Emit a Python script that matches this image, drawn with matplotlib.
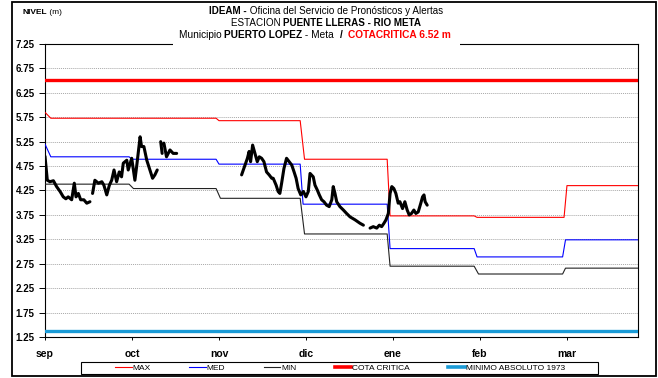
"""Nivel del rio Meta en Puente Lleras: serie observada vs. estadisticos."""

import numpy as np
import matplotlib

matplotlib.use("Agg")
import matplotlib.pyplot as plt
from matplotlib.lines import Line2D
from matplotlib.patches import Rectangle

W, H = 658, 378

months = ["sep", "oct", "nov", "dic", "ene", "feb", "mar"]
month_days = [0, 30, 60, 90, 120, 150, 180]
day_max = 204.5

yticks = [1.25, 1.75, 2.25, 2.75, 3.25, 3.75, 4.25, 4.75, 5.25, 5.75, 6.25, 6.75, 7.25]

cota_critica = 6.52
minimo_1973 = 1.38

# curvas de referencia (dia, nivel)
max_day = [0, 2, 59, 60, 88, 89.5, 118, 119, 148, 149, 179, 180, 204.5]
max_level = [5.85, 5.73, 5.73, 5.68, 5.68, 4.89, 4.89, 3.73, 3.73, 3.70, 3.70, 4.35, 4.35]

med_day = [0, 2, 29, 30, 59, 60, 88, 89, 118, 119, 148, 149, 178.5, 179.5, 204.5]
med_level = [5.20, 4.94, 4.94, 4.89, 4.89, 4.79, 4.79, 3.97, 3.97, 3.06, 3.06, 2.89,
             2.89, 3.24, 3.24]

min_day = [0, 29, 30.5, 59, 60.5, 88, 89.5, 118, 119, 148, 149.5, 178.5, 179.5, 204.5]
min_level = [4.38, 4.38, 4.29, 4.29, 4.09, 4.09, 3.36, 3.36, 2.70, 2.70, 2.54, 2.54,
             2.66, 2.66]

# niveles observados; nan = sin dato
nan = np.nan
obs_day = [
    0.0, 0.8, 1.7, 2.9, 4.0, 5.2, 6.3, 7.2, 8.0, 9.2, 10.1, 10.7, 11.5, 12.3, 13.4,
    14.4, 15.5, 16.0,
    16.4, 17.2, 18.4, 19.6, 20.3, 21.3, 22.2, 23.0, 23.8, 24.7, 25.6, 26.4, 27.0,
    28.2, 28.7, 29.9, 31.0, 31.6, 32.8, 33.3, 34.1, 35.1, 36.2, 37.1, 37.9, 38.7, 39.3,
    39.9, 40.4, 40.7,
    41.0, 41.9, 43.1, 44.2, 45.4, 46.0,
    67.8, 69.0, 69.8, 70.4, 70.9, 71.6, 72.4, 73.2, 73.9, 74.7, 75.5, 76.4, 77.3,
    78.2, 78.7, 79.7, 80.4, 81.0, 81.6, 82.4, 83.3, 84.2, 85.1, 85.9, 86.6, 87.3,
    88.2, 89.1, 90.0, 90.8, 91.4, 92.5, 93.1, 93.9, 94.6, 95.4, 96.2, 97.1, 98.0,
    98.9, 99.4, 100.0, 100.6, 101.7, 102.9, 104.0, 105.2, 106.9, 108.6, 109.8, 111.0,
    112.1, 113.2, 114.4, 115.3, 116.1, 116.9, 117.6, 118.4, 119.0, 119.6, 120.3,
    121.0, 121.8, 122.4, 123.3, 124.1, 124.9, 125.6, 126.4, 127.2, 127.9, 128.7,
    129.6, 130.2, 130.7, 131.1, 131.8,
]
obs_level = [
    4.95, 4.46, 4.43, 4.45, 4.33, 4.23, 4.12, 4.08, 4.12, 4.06, 4.40, 4.12, 4.19, 4.06,
    4.06, 3.99, 4.02, nan,
    4.19, 4.46, 4.40, 4.43, 4.36, 4.16, 4.36, 4.46, 4.67, 4.43, 4.63, 4.53, 4.81,
    4.87, 4.67, 4.91, 4.46, 4.74, 5.35, 5.15, 5.15, 4.87, 4.67, 4.50, 4.57, 4.67, nan,
    5.25, 5.01, nan,
    5.22, 4.94, 5.08, 5.01, 5.01, nan,
    4.57, 4.77, 4.91, 5.05, 4.84, 5.18, 5.01, 4.84, 4.94, 4.91, 4.84, 4.63, 4.57,
    4.50, 4.50, 4.36, 4.23, 4.19, 4.40, 4.70, 4.91, 4.84, 4.77, 4.63, 4.50, 4.29,
    4.16, 4.23, 4.12, 4.23, 4.60, 4.53, 4.36, 4.26, 4.16, 4.06, 4.02, 3.95, 3.92,
    4.06, 4.33, 4.19, 4.02, 3.92, 3.85, 3.78, 3.71, 3.65, 3.58, 3.54, nan,
    3.48, 3.51, 3.48, 3.54, 3.51, 3.58, 3.65, 3.78, 4.19, 4.33, 4.29,
    4.19, 3.99, 4.02, 3.88, 4.02, 3.85, 3.75, 3.78, 3.85, 3.78, 3.81,
    3.99, 4.12, 4.16, 4.02, 3.95,
]

RED = "#ff0000"
BLUE = "#0000ff"
TEAL = "#1a9bd7"

plt.rcParams["font.family"] = ["Liberation Sans", "DejaVu Sans"]
NARROW = ["Liberation Sans Narrow", "Liberation Sans", "DejaVu Sans"]


def px(x, y):
    """pixel (desde arriba-izquierda) -> fraccion de figura"""
    return x / W, 1 - y / H


def rich_line(fig, cx, cy, parts, size):
    renderer = fig.canvas.get_renderer()
    items = []
    for s, weight, color in parts:
        t = fig.text(0, 0, s, fontsize=size, fontweight=weight, color=color,
                     family=NARROW, va="center", ha="left", zorder=6)
        items.append((t, t.get_window_extent(renderer).width))
    x = cx - sum(w for _, w in items) / 2
    for t, w in items:
        t.set_position(px(x, cy))
        x += w


fig = plt.figure(figsize=(W / 100, H / 100), dpi=100)
ax = fig.add_axes([45 / W, 1 - 337 / H, 593 / W, 293 / H])

ax.plot(max_day, max_level, color=RED, lw=0.8, zorder=3)
ax.plot(med_day, med_level, color=BLUE, lw=0.8, zorder=3)
ax.plot(min_day, min_level, color="#222222", lw=0.8, zorder=3)
ax.axhline(cota_critica, color=RED, lw=2.4, zorder=3)
ax.axhline(minimo_1973, color=TEAL, lw=2.4, zorder=3)
ax.plot(obs_day, obs_level, color="black", lw=2.2, zorder=4,
        solid_capstyle="round", solid_joinstyle="round")

ax.set_xlim(0, day_max)
ax.set_ylim(yticks[0], yticks[-1])
ax.set_yticks(yticks)
ax.set_yticklabels([f"{v:.2f}" for v in yticks], fontsize=7, fontweight="bold")
ax.set_xticks(month_days)
ax.set_xticklabels(months, fontsize=7.5, fontweight="bold")
ax.tick_params(axis="y", length=4.5, width=0.7, pad=3)
ax.tick_params(axis="x", length=2.5, width=0.7, pad=6)
ax.grid(axis="y", color="#a8a8a8", lw=0.7, ls=(0, (1, 1)))
ax.set_axisbelow(True)
for sp in ax.spines.values():
    sp.set_linewidth(0.8)

# recuadro exterior del grafico
fig.add_artist(Rectangle(px(12, 376), 644 / W, 374 / H, transform=fig.transFigure,
                         fill=False, edgecolor="black", lw=1.3, zorder=1))

# fondo blanco del titulo sobre el borde superior
fig.add_artist(Rectangle(px(173, 46), 287 / W, 20 / H, transform=fig.transFigure,
                         facecolor="white", edgecolor="none", zorder=5))

rich_line(fig, 326, 11, [("IDEAM -", "bold", "black"),
                         (" Oficina del Servicio de Pronósticos y Alertas", "normal", "black")], 7.1)
rich_line(fig, 326, 23, [("ESTACION ", "normal", "black"),
                         ("PUENTE LLERAS - RIO META", "bold", "black")], 7.1)
rich_line(fig, 315, 35, [("Municipio ", "normal", "black"),
                         ("PUERTO LOPEZ", "bold", "black"),
                         (" - Meta  ", "normal", "black"),
                         ("/  ", "bold", "black"),
                         ("COTACRITICA 6.52 m", "bold", RED)], 7.3)
rich_line(fig, 42, 12, [("NIVEL", "bold", "black"), (" (m)", "normal", "black")], 6)

# leyenda: recuadro fijo y entradas centradas dentro
fig.add_artist(Rectangle(px(81, 374), 517 / W, 12.5 / H, transform=fig.transFigure,
                         facecolor="white", edgecolor="black", lw=0.8, zorder=5))
handles = [
    Line2D([], [], color=RED, lw=0.8),
    Line2D([], [], color=BLUE, lw=0.8),
    Line2D([], [], color="#222222", lw=0.8),
    Line2D([], [], color=RED, lw=2.6),
    Line2D([], [], color=TEAL, lw=2.6),
]
labels = ["MAX", "MED", "MIN", "COTA CRITICA", "MINIMO ABSOLUTO 1973"]
leg = fig.legend(handles, labels, loc="center", ncol=5,
                 bbox_to_anchor=px(340, 368), frameon=False,
                 handlelength=2.0, handletextpad=0.1, columnspacing=4.6,
                 borderpad=0, borderaxespad=0,
                 prop={"family": NARROW, "size": 6})
leg.set_zorder(6)

fig.savefig("out.png", dpi=100)
